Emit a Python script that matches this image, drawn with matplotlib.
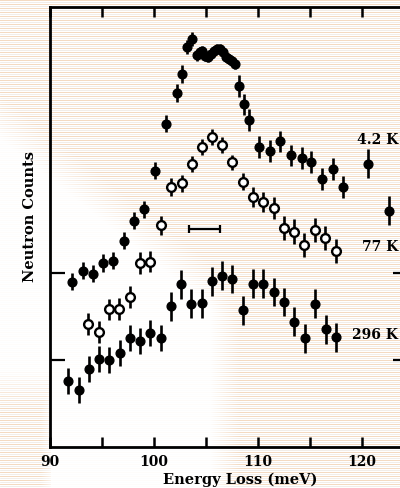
import matplotlib
matplotlib.use("Agg")
import numpy as np
import matplotlib.pyplot as plt
from matplotlib.lines import Line2D

# ---- data (Energy loss in meV, counts in arbitrary units) ----
e_42 = [92.09, 93.15, 94.17, 95.13, 96.09, 97.12, 98.11, 99.08, 100.11, 101.14,
        102.19, 102.73, 103.16, 103.64, 104.12, 104.39, 104.63, 104.92, 105.21,
        105.50, 105.78, 106.07, 106.36, 106.65, 106.94, 107.23, 107.52, 107.81,
        108.19, 108.70, 109.12, 110.14, 111.17, 112.18, 113.17, 114.21, 115.12,
        116.18, 117.19, 118.15, 120.61, 122.66]
c_42 = [38.0, 40.5, 39.8, 42.3, 42.8, 47.4, 52.0, 54.6, 63.5, 74.3,
        81.3, 85.7, 91.9, 93.8, 90.0, 90.8, 91.0, 89.9, 89.7,
        90.3, 91.0, 91.5, 91.4, 90.8, 89.7, 89.2, 88.7, 88.0,
        82.9, 78.7, 75.2, 69.0, 68.1, 70.2, 67.0, 66.4, 65.4,
        61.6, 63.8, 59.7, 65.1, 54.3]
err_42 = [2.0, 2.0, 2.0, 2.0, 2.0, 2.0, 2.0, 2.0, 2.0, 2.0,
          2.0, 2.0, 1.6, 1.6, 1.2, 1.2, 1.2, 1.2, 1.2,
          1.2, 1.2, 1.2, 1.2, 1.2, 1.2, 1.2, 1.2, 1.2,
          2.5, 2.5, 2.5, 2.5, 2.5, 2.5, 2.5, 2.5, 2.5,
          2.5, 2.5, 2.5, 3.4, 3.4]

e_77 = [93.69, 94.72, 95.71, 96.67, 97.70, 98.66, 99.62, 100.68, 101.65, 102.68,
        103.64, 104.60, 105.62, 106.58, 107.55, 108.58, 109.57, 110.53, 111.56,
        112.50, 113.51, 114.45, 115.48, 116.50, 117.50]
c_77 = [28.3, 26.4, 31.6, 31.7, 34.4, 42.3, 42.6, 50.9, 59.7, 60.6,
        65.1, 68.9, 71.2, 69.4, 65.4, 61.0, 57.5, 56.4, 54.9,
        50.3, 49.5, 46.4, 49.8, 48.0, 45.1]
err_77 = [2.5, 2.5, 2.5, 2.5, 2.5, 2.5, 2.5, 2.1, 2.0, 2.0,
          1.8, 1.8, 1.8, 1.8, 1.7, 2.0, 2.3, 2.3, 2.5,
          2.8, 2.8, 2.8, 2.8, 2.8, 2.8]

e_296 = [91.76, 92.81, 93.75, 94.74, 95.71, 96.74, 97.70, 98.66, 99.67, 100.66,
         101.60, 102.59, 103.60, 104.60, 105.56, 106.53, 107.55, 108.55, 109.57,
         110.53, 111.56, 112.55, 113.51, 114.54, 115.51, 116.54, 117.50]
c_296 = [15.2, 13.0, 17.9, 20.3, 19.9, 21.6, 25.0, 24.4, 26.2, 25.0,
         32.3, 37.4, 32.9, 33.0, 38.1, 39.4, 38.6, 31.4, 37.5,
         37.5, 35.6, 33.3, 28.8, 25.0, 32.9, 27.0, 25.2]
err_296 = [3.0] * 10 + [3.3] * 17

res_center = 104.87
res_halfwidth = 1.49
res_level = 50.1

series_labels = ["4.2 K", "77 K", "296 K"]
label_pos = [(119.5, 70.8), (120.0, 46.2), (119.04, 26.0)]

W, H = 400, 489
fig = plt.figure(figsize=(W / 100, H / 100), dpi=100)
fig.patch.set_facecolor("white")

# scanned-paper stripes
for yy in range(1, H, 4):
    fig.add_artist(Line2D([0, 1], [1 - yy / H, 1 - yy / H], transform=fig.transFigure,
                          color="#f4d9c0", lw=0.7, zorder=0))
    fig.add_artist(Line2D([0, 1], [1 - (yy + 2) / H, 1 - (yy + 2) / H],
                          transform=fig.transFigure, color="#ece6e0", lw=0.5, zorder=0))

# soft faded (white) region of the scan
yy_, xx_ = np.mgrid[0:H, 0:W].astype(float)
a1 = np.clip((yy_ - (95 + 0.80 * xx_)) / 45.0, 0, 1)
a2 = np.clip((240 - xx_) / 30.0, 0, 1)
a3 = np.where(xx_ > 50, 1.0, np.clip((410 - yy_) / 40.0, 0, 1))
alpha = 0.93 * a1 * a2 * np.maximum(a3, np.clip((xx_ - 40) / 15.0, 0, 1))
img = np.ones((H, W, 4))
img[..., 3] = alpha
fig.figimage(img, xo=0, yo=0, origin="upper", zorder=0.5)

ax = fig.add_axes([50 / W, 1 - 448 / H, 358 / W, 440 / H])
ax.set_facecolor("none")
ax.set_zorder(2)
ax.set_xlim(90, 124.45)
ax.set_ylim(0, 101.1)

kw = dict(fmt="o", color="black", ecolor="black", elinewidth=1.9, capsize=0,
          ms=6.3, zorder=3)
ax.errorbar(e_296, c_296, yerr=err_296, mfc="black", mec="black", **kw)
ax.errorbar(e_77, c_77, yerr=err_77, mfc="white", mec="black", mew=1.7, **kw)
ax.errorbar(e_42, c_42, yerr=err_42, mfc="black", mec="black", **kw)

# resolution bar
ax.errorbar([res_center], [res_level], xerr=[res_halfwidth], fmt="none",
            ecolor="black", elinewidth=1.6, capsize=3, capthick=1.6)

fnt = dict(family="DejaVu Serif", weight="bold")
for lab, (xx, yy) in zip(series_labels, label_pos):
    ax.text(xx, yy, lab, ha="left", va="center", fontsize=10, clip_on=False, **fnt)

for s in ax.spines.values():
    s.set_linewidth(2)

ax.set_xticks([90, 100, 110, 120])
ax.set_xticks([95, 105, 115], minor=True)
ax.set_xticklabels(["90", "100", "110", "120"], fontsize=10, **fnt)
ax.set_yticks([20, 40])
ax.set_yticklabels([])
ax.tick_params(axis="x", which="both", direction="in", top=True, bottom=True,
               length=7, width=1.8, pad=5)
ax.tick_params(axis="y", direction="in", left=True, right=True, length=11, width=1.6)

ax.set_xlabel("Energy Loss (meV)", fontsize=10.5, va="center", **fnt)
ax.xaxis.set_label_coords(0.53, -0.073)
ax.set_ylabel("Neutron Counts", fontsize=10.5, va="center", **fnt)
ax.yaxis.set_label_coords(-0.057, 0.525)

fig.savefig("out.png", dpi=100)
